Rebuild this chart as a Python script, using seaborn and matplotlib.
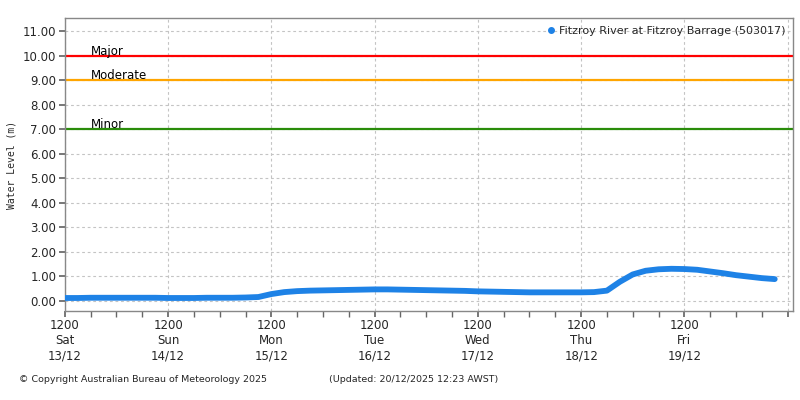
import pandas as pd
import matplotlib
matplotlib.use("Agg")
import matplotlib.pyplot as plt
import matplotlib.dates as mdates
import seaborn as sns

# water level readings, 3-hourly from Sat 13/12 12:00
start = pd.Timestamp("2025-12-13 12:00")
levels = [
    0.12, 0.12, 0.13, 0.13, 0.13, 0.13, 0.13, 0.13,   # Sat 12:00 -> Sun 09:00
    0.12, 0.12, 0.12, 0.13, 0.13, 0.13, 0.14, 0.16,   # Sun 12:00 -> Mon 09:00
    0.28, 0.36, 0.40, 0.42, 0.43, 0.44, 0.45, 0.46,   # Mon 12:00 -> Tue 09:00
    0.47, 0.47, 0.46, 0.45, 0.44, 0.43, 0.42, 0.41,   # Tue 12:00 -> Wed 09:00
    0.39, 0.38, 0.37, 0.36, 0.35, 0.35, 0.35, 0.35,   # Wed 12:00 -> Thu 09:00
    0.35, 0.36, 0.42, 0.78, 1.08, 1.23, 1.29, 1.31,   # Thu 12:00 -> Fri 09:00
    1.30, 1.27, 1.20, 1.13, 1.05, 0.99, 0.93, 0.89,   # Fri 12:00 -> Sat 09:00
]
times = [start + pd.Timedelta(hours=3 * i) for i in range(len(levels))]
df = pd.DataFrame({"time": times, "level": levels})

thresholds = {"Major": 10.0, "Moderate": 9.0, "Minor": 7.0}
threshold_colors = {"Major": "#ff0000", "Moderate": "#ffa500", "Minor": "#2a8c0a"}

day_names = ["Sat", "Sun", "Mon", "Tue", "Wed", "Thu", "Fri"]
day_dates = ["13/12", "14/12", "15/12", "16/12", "17/12", "18/12", "19/12"]

sns.set_theme(style="white")
plt.rcParams["font.family"] = ["DejaVu Sans"]

fig = plt.figure(figsize=(8, 4), dpi=100)
ax = fig.add_axes([0.081, 0.2225, 0.91, 0.7325])

for name, val in thresholds.items():
    ax.axhline(val, color=threshold_colors[name], lw=1.6, zorder=2)
    ax.text(start + pd.Timedelta(hours=6), val - 0.08, name, fontsize=8.5,
            color="black", va="bottom", zorder=3)

sns.lineplot(data=df, x="time", y="level", ax=ax, color="#1e82e6", lw=4.2,
             solid_capstyle="round", zorder=4, legend=False)
ax.plot([], [], "o", color="#1e82e6", ms=4,
        label="Fitzroy River at Fitzroy Barrage (503017)")

ax.set_ylim(-0.41, 11.53)
ax.set_yticks([float(i) for i in range(12)])
ax.set_yticklabels([f"{i:.2f}" for i in range(12)], fontsize=8.5)

ax.set_xlim(start, start + pd.Timedelta(hours=24 * 7.05))
major = [start + pd.Timedelta(days=d) for d in range(8)]
ax.set_xticks(major)
ax.set_xticklabels([f"1200\n{n}\n{d}" for n, d in zip(day_names, day_dates)] + [""],
                   fontsize=8.5, linespacing=1.2)
ax.xaxis.set_minor_locator(mdates.HourLocator(byhour=[0, 6, 18]))
ax.tick_params(axis="x", which="both", direction="out", length=4, color="#666666",
               pad=2, bottom=True)
ax.tick_params(axis="y", direction="out", length=4, color="#666666", pad=2, left=True)

ax.grid(True, which="major", color="#c4c4c4", ls=(0, (2.5, 2.5)), lw=0.8)
for s in ax.spines.values():
    s.set_color("#888888")
    s.set_linewidth(1)

ax.set_xlabel("")
ax.set_ylabel("Water Level (m)", fontsize=7, family="DejaVu Sans Mono", labelpad=5)

ax.legend(loc="upper right", frameon=False, fontsize=8, handletextpad=0.2,
          handlelength=1, borderaxespad=0.3)

fig.text(0.024, 0.045, "\u00a9 Copyright Australian Bureau of Meteorology 2025", fontsize=6.8)
fig.text(0.411, 0.045, "(Updated: 20/12/2025 12:23 AWST)", fontsize=6.8)

fig.savefig("out.png", dpi=100)
